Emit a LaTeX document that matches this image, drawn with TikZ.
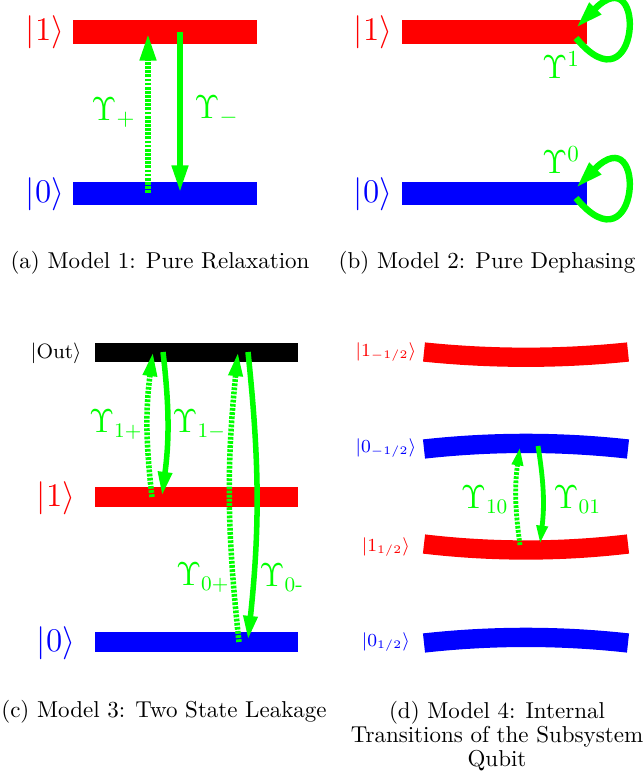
\documentclass[tikz,border=0pt]{standalone}
\usepackage{amsmath}
\usetikzlibrary{arrows.meta}

\definecolor{lvlred}{RGB}{255,0,0}
\definecolor{lvlblue}{RGB}{0,0,255}
\definecolor{rategreen}{RGB}{0,255,0}

\tikzset{
  lvl/.style={line width=10.4pt},
  thinlvl/.style={line width=8.4pt},
  rate/.style={rategreen, line width=2.8pt, -{Triangle[length=12pt,width=6.6pt]}},
  midrate/.style={rategreen, line width=2.4pt, -{Triangle[length=10.5pt,width=5.8pt]}},
  smallrate/.style={rategreen, line width=2.1pt, -{Triangle[length=8pt,width=4.6pt]}},
  dotrate/.style={dash pattern=on 1.2pt off 0.6pt},
  ket/.style={font=\fontsize{13.5}{14}\selectfont},
  smallket/.style={font=\fontsize{7.7}{8}\selectfont},
  ratelabel/.style={text=rategreen, font=\fontsize{14.5}{15}\selectfont, inner sep=0pt},
  midlabel/.style={text=rategreen, font=\fontsize{13.5}{14}\selectfont, inner sep=0pt},
  subcaption/.style={font=\fontsize{10}{10.4}\selectfont, align=center}
}

\begin{document}
\begin{tikzpicture}[x=0.435pt,y=-0.435pt]
\useasboundingbox (0,0) rectangle (642,779);
\draw[lvl, lvlred] (73,32) -- (257,32);
\draw[lvl, lvlblue] (73,193.5) -- (257,193.5);
\node[ket, text=lvlred] (oneA) at (45,32) {$|1\rangle$};
\node[ket, text=lvlblue] (zeroA) at (45,194) {$|0\rangle$};
\coordinate (upAs) at (148,193);
\coordinate (upAe) at (148,33);
\coordinate (downAs) at (180,32);
\coordinate (downAe) at (180,193);
\draw[rate, dotrate] (upAs) -- (upAe);
\draw[rate] (downAs) -- (downAe);
\node[ratelabel, anchor=east] (plusA) at (136,113) {$\Upsilon_{+}$};
\node[ratelabel, anchor=west] (minusA) at (194,111) {$\Upsilon_{-}$};
\node[subcaption] (capA) at (160,263) {(a) Model 1: Pure Relaxation};

\draw[lvl, lvlred] (402,32) -- (587,32);
\draw[lvl, lvlblue] (402,193.5) -- (587,193.5);
\node[ket, text=lvlred] (oneB) at (373,32) {$|1\rangle$};
\node[ket, text=lvlblue] (zeroB) at (373,194) {$|0\rangle$};
\coordinate (loopOneS) at (576,38);
\coordinate (loopOneE) at (576,28);
\coordinate (loopZeroS) at (576,198);
\coordinate (loopZeroE) at (576,188);
\draw[rate] (loopOneS) .. controls (640,115) and (648,-45) .. (loopOneE);
\draw[rate] (loopZeroS) .. controls (640,275) and (648,115) .. (loopZeroE);
\node[ratelabel] (dephOne) at (561,65) {$\Upsilon^{1}$};
\node[ratelabel] (dephZero) at (561,160) {$\Upsilon^{0}$};
\node[subcaption] (capB) at (487,263) {(b) Model 2: Pure Dephasing};

\draw[thinlvl, black] (95,352.5) -- (298,352.5);
\draw[thinlvl, lvlred] (95,497) -- (298,497);
\draw[thinlvl, lvlblue] (95,642) -- (298,642);
\node[font=\fontsize{8.8}{9}\selectfont] (outC) at (56,353) {$|\mathrm{Out}\rangle$};
\node[ket, text=lvlred] (oneC) at (56,498) {$|1\rangle$};
\node[ket, text=lvlblue] (zeroC) at (56,643) {$|0\rangle$};
\coordinate (upOneS) at (152,497);
\coordinate (upOneE) at (153,352);
\coordinate (downOneS) at (163,352);
\coordinate (downOneE) at (162,496);
\coordinate (upZeroS) at (239,642);
\coordinate (upZeroE) at (238,352);
\coordinate (downZeroS) at (248,352);
\coordinate (downZeroE) at (248,640);
\draw[midrate, dotrate] (upOneS) to[bend left=7] (upOneE);
\draw[midrate] (downOneS) to[bend left=7] (downOneE);
\draw[midrate, dotrate] (upZeroS) to[bend left=6] (upZeroE);
\draw[midrate] (downZeroS) to[bend left=6] (downZeroE);
\node[midlabel, anchor=east] (plusOneC) at (143,425) {$\Upsilon_{1+}$};
\node[midlabel, anchor=west] (minusOneC) at (172,425) {$\Upsilon_{1-}$};
\node[midlabel, anchor=east] (plusZeroC) at (230,578) {$\Upsilon_{0+}$};
\node[midlabel, anchor=west] (minusZeroC) at (259,578) {$\Upsilon_{0\text{-}}$};
\node[subcaption] (capC) at (164,712) {(c) Model 3: Two State Leakage};

\draw[thinlvl, lvlred] (424,352) .. controls (492,359) and (560,359) .. (628,352);
\draw[thinlvl, lvlblue] (424,449) .. controls (492,441.5) and (560,441.5) .. (628,449);
\draw[thinlvl, lvlred] (424,544) .. controls (492,552) and (560,552) .. (628,544);
\draw[thinlvl, lvlblue] (424,643) .. controls (492,635.5) and (560,635.5) .. (628,643);
\node[smallket, text=lvlred] (oneMinusD) at (386,352) {$|1_{-1/2}\rangle$};
\node[smallket, text=lvlblue] (zeroMinusD) at (386,448) {$|0_{-1/2}\rangle$};
\node[smallket, text=lvlred] (onePlusD) at (386,547) {$|1_{1/2}\rangle$};
\node[smallket, text=lvlblue] (zeroPlusD) at (386,642) {$|0_{1/2}\rangle$};
\coordinate (upD) at (520,545);
\coordinate (upDe) at (520,447);
\coordinate (downD) at (538,446);
\coordinate (downDe) at (540,544);
\draw[smallrate, dotrate] (upD) to[bend left=8] (upDe);
\draw[smallrate] (downD) to[bend left=8] (downDe);
\node[midlabel, anchor=east] (tenD) at (509,500) {$\Upsilon_{10}$};
\node[midlabel, anchor=west] (zeroOneD) at (553,500) {$\Upsilon_{01}$};
\node[subcaption] (capD) at (497,736) {(d) Model 4: Internal\\Transitions of the Subsystem\\Qubit};
\end{tikzpicture}
\end{document}
